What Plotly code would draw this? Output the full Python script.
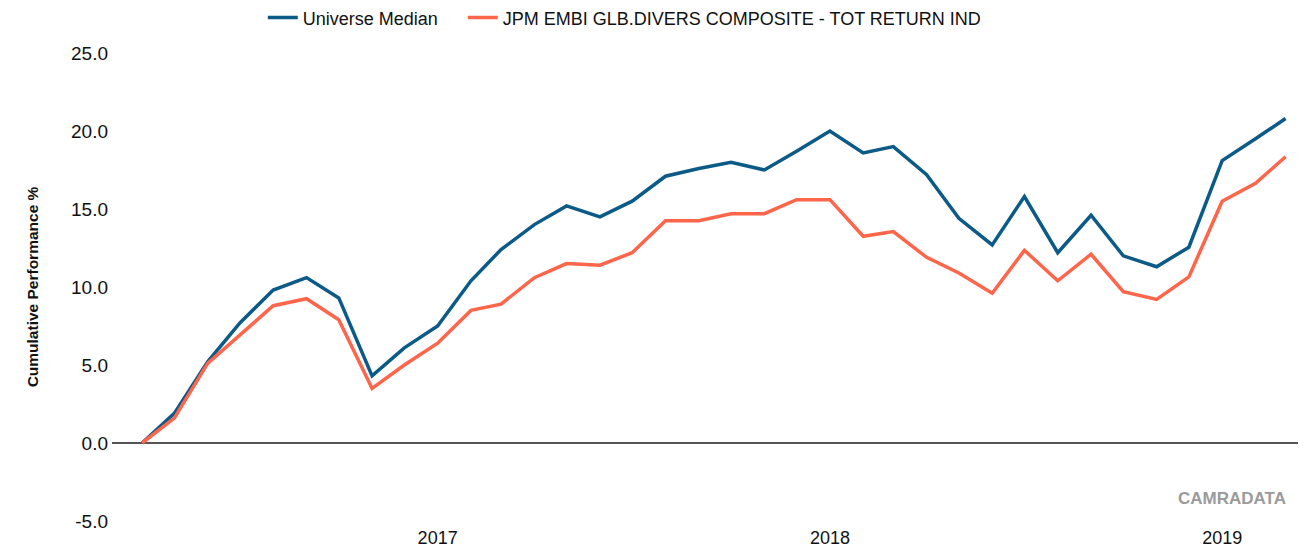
import plotly.graph_objects as go

months = [
    "2016-04-01", "2016-05-01", "2016-06-01", "2016-07-01", "2016-08-01", "2016-09-01",
    "2016-10-01", "2016-11-01", "2016-12-01", "2017-01-01", "2017-02-01", "2017-03-01",
    "2017-04-01", "2017-05-01", "2017-06-01", "2017-07-01", "2017-08-01", "2017-09-01",
    "2017-10-01", "2017-11-01", "2017-12-01", "2018-01-01", "2018-02-01", "2018-03-01",
    "2018-04-01", "2018-05-01", "2018-06-01", "2018-07-01", "2018-08-01", "2018-09-01",
    "2018-10-01", "2018-11-01", "2018-12-01", "2019-01-01", "2019-02-01", "2019-03-01",
]

universe_median = [
    0.0, 1.9, 5.2, 7.7, 9.8, 10.6, 9.3, 4.3, 6.1, 7.5, 10.4, 12.4,
    14.0, 15.2, 14.5, 15.5, 17.1, 17.6, 18.0, 17.5, 18.7, 20.0, 18.6, 19.0,
    17.2, 14.4, 12.7, 15.8, 12.2, 14.6, 12.0, 11.3, 12.55, 18.1, 19.5, 20.8,
]

jpm_embi = [
    0.0, 1.6, 5.1, 6.9, 8.8, 9.25, 7.9, 3.5, 5.0, 6.4, 8.5, 8.9,
    10.6, 11.5, 11.4, 12.2, 14.25, 14.25, 14.7, 14.7, 15.6, 15.6, 13.25, 13.55,
    11.9, 10.9, 9.6, 12.35, 10.4, 12.1, 9.7, 9.2, 10.65, 15.5, 16.65, 18.35,
]

series_names = ["Universe Median", "JPM EMBI GLB.DIVERS COMPOSITE - TOT RETURN IND"]
year_ticks = ["2017-01-01", "2018-01-01", "2019-01-01"]
year_labels = ["2017", "2018", "2019"]
y_ticks = [-5, 0, 5, 10, 15, 20, 25]
y_labels = ["-5.0", "0.0", "5.0", "10.0", "15.0", "20.0", "25.0"]

FONT = "Liberation Sans, Arial, sans-serif"

fig = go.Figure()
fig.add_trace(go.Scatter(x=months, y=universe_median, name=series_names[0], mode="lines",
                         line=dict(color="#0b5a87", width=3.5), legend="legend"))
fig.add_trace(go.Scatter(x=months, y=jpm_embi, name=series_names[1], mode="lines",
                         line=dict(color="#fd664b", width=3.5), legend="legend2"))

legend_common = dict(orientation="h", xanchor="left", y=1.075, yanchor="middle",
                     font=dict(size=18), bgcolor="rgba(0,0,0,0)")

fig.update_layout(
    width=1306, height=551,
    margin=dict(l=104, r=8, t=45, b=38, autoexpand=False),
    paper_bgcolor="white", plot_bgcolor="white",
    font=dict(family=FONT, size=18, color="#111111"),
    showlegend=True,
    legend=dict(x=0.1263, **legend_common),
    legend2=dict(x=0.2938, **legend_common),
    xaxis=dict(type="date", range=["2016-03-04", "2019-03-20"], tickvals=year_ticks,
               ticktext=year_labels, showgrid=False, zeroline=False, showline=False,
               ticks="", tickfont=dict(size=18), ticklabelstandoff=4),
    yaxis=dict(range=[-5, 25], tickvals=y_ticks, ticktext=y_labels, showgrid=False,
               zeroline=True, zerolinecolor="#555555", zerolinewidth=2, showline=False,
               ticks="", tickfont=dict(size=19), ticklabelstandoff=3,
               title=dict(text="<b>Cumulative Performance %</b>", font=dict(size=15.5), standoff=28)),
)

fig.add_annotation(text="<b>CAMRADATA</b>", xref="paper", yref="paper", x=1.0, y=0.049,
                   xanchor="right", yanchor="middle", showarrow=False, xshift=-18,
                   font=dict(family=FONT, size=17, color="#9b9b9b"))

fig.write_html("out.html")
